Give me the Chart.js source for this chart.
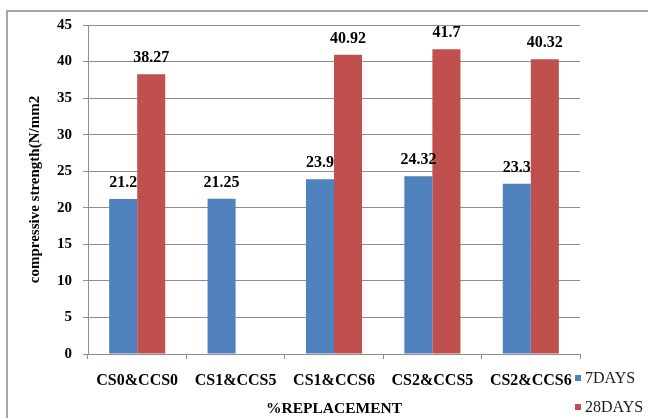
<!DOCTYPE html>
<html>
<head>
<meta charset="utf-8">
<script src="https://cdn.jsdelivr.net/npm/chart.js@4.4.0/dist/chart.umd.min.js"></script>
<style>
  html, body { margin: 0; padding: 0; background: #fff; }
  #wrap { width: 648px; height: 418px; position: relative; }
</style>
</head>
<body>
<div id="wrap"><canvas id="chart" width="648" height="418"></canvas></div>
<script>
// data
const categories = ["CS0&CCS0", "CS1&CCS5", "CS1&CCS6", "CS2&CCS5", "CS2&CCS6"];
const days7 = [21.2, 21.25, 23.9, 24.32, 23.3];
const days28 = [38.27, null, 40.92, 41.7, 40.32];
const seriesNames = ["7DAYS", "28DAYS"];
const seriesColors = ["#4F81BD", "#C0504D"];

const serif = "'Liberation Serif', 'Times New Roman', serif";
const gridGray = "#8e8e8e";

// outer frame (only top and left edges visible in the picture)
const framePlugin = {
  id: "frame",
  beforeDraw(chart) {
    const ctx = chart.ctx;
    ctx.save();
    ctx.strokeStyle = "#a6a6a6";
    ctx.lineWidth = 2;
    ctx.beginPath();
    ctx.moveTo(7, 418);
    ctx.lineTo(7, 11);
    ctx.lineTo(648, 11);
    ctx.stroke();
    ctx.restore();
  },
};

// value labels above each bar
const valueLabels = {
  id: "valueLabels",
  afterDatasetsDraw(chart) {
    const ctx = chart.ctx;
    ctx.save();
    ctx.font = "bold 16px " + serif;
    ctx.fillStyle = "#000";
    ctx.textAlign = "center";
    ctx.textBaseline = "middle";
    chart.data.datasets.forEach((ds, i) => {
      chart.getDatasetMeta(i).data.forEach((bar, j) => {
        const v = ds.data[j];
        if (v == null) return;
        ctx.fillText(String(v), bar.x, bar.y - 16);
      });
    });
    ctx.restore();
  },
};

// legend at bottom right
const sideLegend = {
  id: "sideLegend",
  afterDraw(chart) {
    const ctx = chart.ctx;
    ctx.save();
    ctx.font = "16px " + serif;
    ctx.textBaseline = "middle";
    ctx.textAlign = "left";
    chart.data.datasets.forEach((ds, i) => {
      const y = 378 + i * 29;
      ctx.fillStyle = ds.backgroundColor;
      ctx.fillRect(575, y - 3, 6, 6);
      ctx.fillStyle = "#1a1a1a";
      ctx.fillText(ds.label, 585, y + 1);
    });
    ctx.restore();
  },
};

new Chart(document.getElementById("chart"), {
  type: "bar",
  data: {
    labels: categories,
    datasets: [
      { label: seriesNames[0], data: days7, backgroundColor: seriesColors[0] },
      { label: seriesNames[1], data: days28, backgroundColor: seriesColors[1] },
    ],
  },
  options: {
    responsive: false,
    animation: false,
    devicePixelRatio: 1,
    layout: { padding: { top: 25, right: 68, bottom: 0, left: 0 } },
    datasets: {
      bar: { categoryPercentage: 0.57, barPercentage: 1.0 },
    },
    plugins: {
      legend: { display: false },
      tooltip: { enabled: false },
    },
    scales: {
      x: {
        afterFit: (s) => { s.height = 64; },
        grid: {
          offset: true,
          drawOnChartArea: false,
          drawTicks: true,
          tickLength: 5,
          color: gridGray,
        },
        border: { color: gridGray },
        ticks: {
          color: "#000",
          padding: 12,
          maxRotation: 0,
          font: { family: serif, size: 16, weight: "bold" },
        },
        title: {
          display: true,
          text: "%REPLACEMENT",
          color: "#000",
          padding: { top: 0, bottom: 0 },
          font: { family: serif, size: 15.5, weight: "bold" },
        },
      },
      y: {
        min: 0,
        max: 45,
        afterFit: (s) => { s.width = 88; },
        grid: { color: gridGray, tickLength: 5 },
        border: { color: gridGray },
        ticks: {
          stepSize: 5,
          color: "#000",
          padding: 11,
          font: { family: serif, size: 15, weight: "bold" },
        },
        title: {
          display: true,
          text: "compressive strength(N/mm2",
          color: "#000",
          padding: { top: 26, bottom: 0 },
          font: { family: serif, size: 15, weight: "bold" },
        },
      },
    },
  },
  plugins: [framePlugin, valueLabels, sideLegend],
});
</script>
</body>
</html>
